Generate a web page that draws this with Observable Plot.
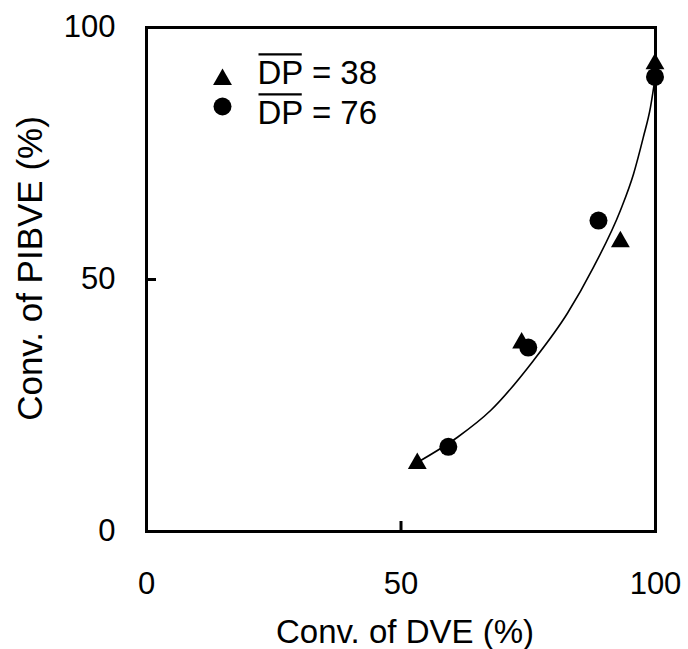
<!DOCTYPE html>
<html>
<head>
<meta charset="utf-8">
<script src="https://cdn.jsdelivr.net/npm/d3@7"></script>
<script src="https://cdn.jsdelivr.net/npm/@observablehq/plot@0.6"></script>
<style>
  html, body { margin: 0; padding: 0; background: #fff; }
  #chart { width: 688px; height: 649px; }
</style>
</head>
<body>
<div id="chart"></div>
<script>
// Data
const dp38X = [53.2, 73.7, 93.1, 99.9];
const dp38Y = [13.5, 37.4, 57.5, 92.8];
const dp76X = [59.3, 75.0, 88.8, 99.9];
const dp76Y = [16.8, 36.5, 61.7, 90.2];
const curveX = [53.2, 61.1, 67.6, 76.0, 82.7, 87.8, 93.1, 95.7, 97.6, 99.0, 100];
const curveY = [13.7, 18.7, 24.0, 33.9, 43.3, 52.4, 63.7, 71.0, 78.2, 84.1, 90.5];
const xTicks = [0, 50, 100];
const yTicks = [0, 50, 100];
const innerTicks = [50];
const xLabel = "Conv. of DVE (%)";
const yLabel = "Conv. of PIBVE (%)";
const legendPrefix = "DP";
const legendValues = ["38", "76"];
const legendSymbols = ["triangle", "circle"];

const dp38 = dp38X.map((x, i) => ({x, y: dp38Y[i]}));
const dp76 = dp76X.map((x, i) => ({x, y: dp76Y[i]}));
const curve = curveX.map((x, i) => ({x, y: curveY[i]}));

const font = "'Liberation Sans', Arial, Helvetica, sans-serif";
const legendFont = 33;

const plot = Plot.plot({
  width: 688,
  height: 649,
  marginLeft: 146,
  marginRight: 33,
  marginTop: 27,
  marginBottom: 118,
  x: {domain: [0, 100]},
  y: {domain: [0, 100]},
  style: {fontFamily: font, fontSize: "31px", color: "#000", background: "#fff", overflow: "visible"},
  marks: [
    Plot.axisX({ticks: xTicks, tickSize: 0, tickPadding: 40, fontSize: 31, label: null}),
    Plot.axisY({ticks: yTicks, tickSize: 0, tickPadding: 31, fontSize: 31, label: null}),
    Plot.axisX({ticks: innerTicks, tickSize: -10, tickFormat: () => "", label: null, strokeWidth: 3}),
    Plot.axisY({ticks: innerTicks, tickSize: -10, tickFormat: () => "", label: null, strokeWidth: 3}),
    Plot.text([xLabel], {frameAnchor: "bottom", dx: 4, dy: 101, text: d => d, textAnchor: "middle", lineAnchor: "middle", fontSize: 33}),
    Plot.text([yLabel], {frameAnchor: "left", dx: -116, dy: -11, rotate: -90, text: d => d, textAnchor: "middle", lineAnchor: "middle", fontSize: 35}),
    Plot.frame({stroke: "#000", strokeWidth: 3}),
    Plot.line(curve, {x: "x", y: "y", curve: "monotone-x", stroke: "#000", strokeWidth: 1.6}),
    Plot.dot(dp38, {x: "x", y: "y", symbol: "triangle", fill: "#000", r: 7}),
    Plot.dot(dp76, {x: "x", y: "y", symbol: "circle", fill: "#000", r: 9}),
    // legend
    Plot.dot([legendSymbols[0]], {frameAnchor: "top-left", dx: 76, dy: 52, symbol: d => d, fill: "#000", r: 7}),
    Plot.dot([legendSymbols[1]], {frameAnchor: "top-left", dx: 76, dy: 79, symbol: d => d, fill: "#000", r: 9}),
    Plot.text([legendValues[0]], {frameAnchor: "top-left", dx: 111, dy: 46, text: d => `${legendPrefix} = ${d}`, textAnchor: "start", lineAnchor: "middle", fontSize: legendFont}),
    Plot.text([legendValues[1]], {frameAnchor: "top-left", dx: 111, dy: 86, text: d => `${legendPrefix} = ${d}`, textAnchor: "start", lineAnchor: "middle", fontSize: legendFont})
  ]
});

document.getElementById("chart").appendChild(plot);

// Overline on "DP" in the legend, drawn as a line over the measured glyphs
d3.select(plot).selectAll("text").each(function () {
  const el = this;
  const content = el.textContent || "";
  if (!content.startsWith(legendPrefix + " =")) return;
  try {
    const a = el.getExtentOfChar(0);
    const b = el.getExtentOfChar(legendPrefix.length - 1);
    const y = a.y + 0.189 * legendFont - 6;
    const tr = el.getAttribute("transform");
    const line = d3.select(el.parentNode).append("line")
      .attr("x1", a.x + 1).attr("x2", b.x + b.width - 1)
      .attr("y1", y).attr("y2", y)
      .attr("stroke", "#000").attr("stroke-width", 2.2);
    if (tr) line.attr("transform", tr);
  } catch (e) {
    console.error(e);
  }
});
</script>
</body>
</html>
